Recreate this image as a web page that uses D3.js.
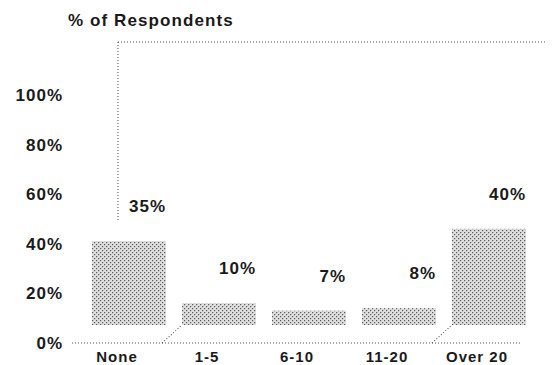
<!DOCTYPE html>
<html>
<head>
<meta charset="utf-8">
<script src="https://cdn.jsdelivr.net/npm/d3@7/dist/d3.min.js"></script>
<style>
  html, body { margin: 0; padding: 0; background: #fff; }
  svg { display: block; font-family: "Liberation Sans", Arial, sans-serif; }
</style>
</head>
<body>
<svg id="chart" width="554" height="365"></svg>
<script>
// Share of respondents per category
const categories = ["None", "1-5", "6-10", "11-20", "Over 20"];
const respondents = [35, 10, 7, 8, 40];
const yTicks = [0, 20, 40, 60, 80, 100];
const title = "% of Respondents";

const svg = d3.select("#chart");
const ink = "#1a1a1a";
const dotInk = "#555";

// Scales: front plane of the pseudo-3D box
const y = d3.scaleLinear().domain([0, 100]).range([343, 95]);
const x = d3.scaleBand().domain(categories).range([72, 522]).padding(0);

// Depth offset of the back plane where the bars stand
const depthX = 20, depthY = -15, floorY = y(0) - 18;
const barW = 74;
const wallTop = 42, wallLeft = 118, wallRight = 545;

// Halftone fill for the bars
const defs = svg.append("defs");
const pat = defs.append("pattern")
  .attr("id", "halftone").attr("patternUnits", "userSpaceOnUse")
  .attr("width", 4).attr("height", 4);
pat.append("rect").attr("width", 4).attr("height", 4).attr("fill", "#dedede");
pat.append("rect").attr("x", 0).attr("y", 0).attr("width", 1.2).attr("height", 1.2).attr("fill", "#5a5a5a");
pat.append("rect").attr("x", 2).attr("y", 2).attr("width", 1.2).attr("height", 1.2).attr("fill", "#5a5a5a");

// Dotted frame lines
const dotted = (x1, y1, x2, y2) => svg.append("line")
  .attr("x1", x1).attr("y1", y1).attr("x2", x2).attr("y2", y2)
  .attr("stroke", dotInk).attr("stroke-width", 1.1)
  .attr("stroke-dasharray", "1,2");

dotted(wallLeft, wallTop, wallRight, wallTop);
dotted(wallLeft, wallTop, wallLeft, y(49));
dotted(72, y(0), 520, y(0));
["1-5", "Over 20"].forEach(c => dotted(x(c), y(0), x(c) + depthX, floorY));

// Bars
const data = categories.map((c, i) => ({ c, v: respondents[i] }));
svg.append("g").selectAll("rect").data(data).join("rect")
  .attr("x", d => x(d.c) + depthX)
  .attr("y", d => y(d.v) + depthY)
  .attr("width", barW)
  .attr("height", d => floorY - (y(d.v) + depthY))
  .attr("fill", "url(#halftone)");

// Value labels
svg.append("g").selectAll("text").data(data).join("text")
  .attr("x", d => x(d.c) + depthX + barW)
  .attr("y", d => y(d.v) + depthY - 35)
  .attr("dy", "0.36em")
  .attr("text-anchor", "end")
  .attr("font-size", 17).attr("font-weight", "bold")
  .attr("letter-spacing", 1)
  .attr("fill", ink)
  .text(d => d.v + "%");

// Y axis labels
const yAxis = svg.append("g").attr("transform", "translate(63,0)")
  .call(d3.axisLeft(y).tickValues(yTicks).tickFormat(d => d + "%")
    .tickSize(0).tickPadding(0));
yAxis.select(".domain").remove();
yAxis.selectAll("text")
  .attr("font-size", 17).attr("font-weight", "bold")
  .attr("letter-spacing", 1).attr("fill", ink)
  .attr("font-family", "Liberation Sans, Arial, sans-serif");

// Category labels
const xAxis = svg.append("g").attr("transform", `translate(0,${y(0)})`)
  .call(d3.axisBottom(x).tickSize(0).tickPadding(8));
xAxis.select(".domain").remove();
xAxis.selectAll("text")
  .attr("font-size", 15).attr("font-weight", "bold")
  .attr("letter-spacing", 1).attr("fill", ink)
  .attr("font-family", "Liberation Sans, Arial, sans-serif");

// Title
svg.append("text")
  .attr("x", 68).attr("y", 20).attr("dy", "0.36em")
  .attr("font-size", 17).attr("font-weight", "bold")
  .attr("letter-spacing", 1.1).attr("fill", ink)
  .text(title);
</script>
</body>
</html>
